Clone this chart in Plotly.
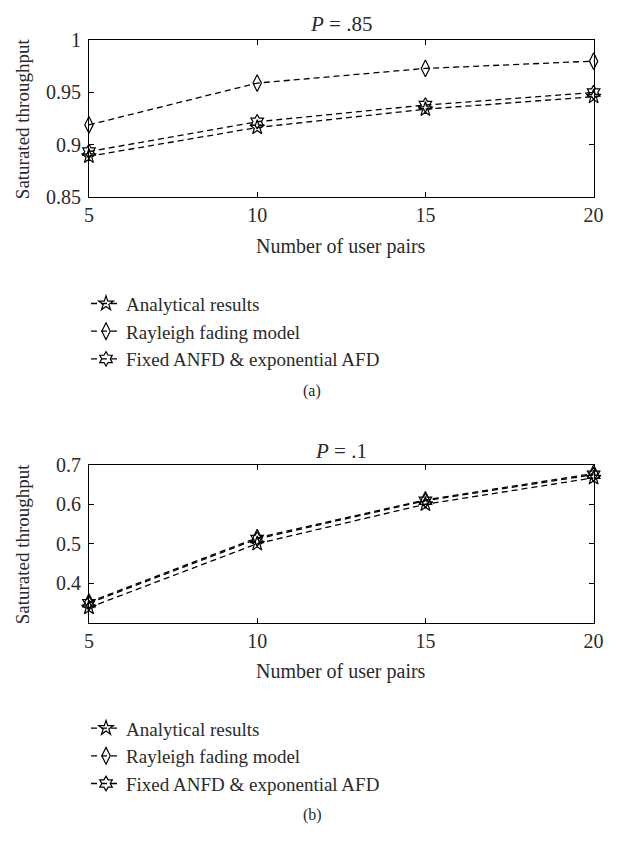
import plotly.graph_objects as go

users = [5, 10, 15, 20]

# P = .85
top_analytical = [0.889, 0.9165, 0.934, 0.946]
top_rayleigh = [0.919, 0.959, 0.973, 0.980]
top_fixed = [0.8935, 0.922, 0.938, 0.950]

# P = .1
bot_analytical = [0.338, 0.500, 0.600, 0.667]
bot_rayleigh = [0.352, 0.515, 0.611, 0.678]
bot_fixed = [0.349, 0.512, 0.609, 0.675]

names = ["Analytical results", "Rayleigh fading model", "Fixed ANFD &amp; exponential AFD"]
symbols = ["star-open", "diamond-tall-open", "hexagram-open"]
msizes = [11, 12, 11]

top_yticks = [0.85, 0.9, 0.95, 1]
top_yticktext = ["0.85", "0.9", "0.95", "1"]
bot_yticks = [0.4, 0.5, 0.6, 0.7]
bot_yticktext = ["0.4", "0.5", "0.6", "0.7"]
xticks = [5, 10, 15, 20]

W, H = 629, 841
FONT = "Liberation Serif"
TXT = "#2a2a2a"
FS = 20

def py(p):
    return 1 - p / H

def px(p):
    return p / W

fig = go.Figure()

top_series = [top_analytical, top_rayleigh, top_fixed]
bot_series = [bot_analytical, bot_rayleigh, bot_fixed]

for i, (vals, nm, sym, ms) in enumerate(zip(top_series, names, symbols, msizes)):
    fig.add_trace(go.Scatter(
        x=users, y=vals, name=nm, mode="lines+markers",
        line=dict(color="black", width=1.3, dash="6px,4px"),
        marker=dict(symbol=sym, size=ms, color="black", line=dict(width=1.2, color="black")),
        xaxis="x", yaxis="y", legend="legend",
        cliponaxis=False,
    ))

for i, (vals, nm, sym, ms) in enumerate(zip(bot_series, names, symbols, msizes)):
    fig.add_trace(go.Scatter(
        x=users, y=vals, name=nm, mode="lines+markers",
        line=dict(color="black", width=1.3, dash="6px,4px"),
        marker=dict(symbol=sym, size=ms, color="black", line=dict(width=1.2, color="black")),
        xaxis="x2", yaxis="y2", legend="legend2",
        cliponaxis=False,
    ))

x0, x1 = px(86), px(603)
axcommon = dict(showline=True, linecolor="black", linewidth=1, mirror="allticks",
                ticks="inside", ticklen=5, tickcolor="black", showgrid=False, zeroline=False,
                tickfont=dict(family=FONT, size=FS, color=TXT))

legend_common = dict(font=dict(family=FONT, size=19, color=TXT), bgcolor="rgba(0,0,0,0)",
                     borderwidth=0, xanchor="left", yanchor="top", traceorder="normal")

fig.update_layout(
    width=W, height=H, margin=dict(l=0, r=0, t=0, b=0),
    paper_bgcolor="white", plot_bgcolor="white",
    font=dict(family=FONT, size=FS, color=TXT),
    xaxis=dict(domain=[x0, x1], range=[5, 20], tickvals=xticks, anchor="y", **axcommon),
    yaxis=dict(domain=[py(191), py(30)], range=[0.85, 1], tickvals=top_yticks,
               ticktext=top_yticktext, anchor="x", ticklabelstandoff=3, **axcommon),
    xaxis2=dict(domain=[x0, x1], range=[5, 20], tickvals=xticks, anchor="y2", **axcommon),
    yaxis2=dict(domain=[py(628), py(466)], range=[0.3, 0.7], tickvals=bot_yticks,
                ticktext=bot_yticktext, anchor="x2", ticklabelstandoff=3, **axcommon),
    legend=dict(x=px(83), y=py(281), **legend_common),
    legend2=dict(x=px(83), y=py(717), **legend_common),
    showlegend=True,
)

cx = (86 + 603) / 2 / W
ann = [
    dict(text="<i>P</i> = .85", x=cx, y=py(13), size=21),
    dict(text="Number of user pairs", x=cx, y=py(242)),
    dict(text="(a)", x=0.5, y=py(390), size=16),
    dict(text="<i>P</i> = .1", x=cx, y=py(452), size=21),
    dict(text="Number of user pairs", x=cx, y=py(678)),
    dict(text="(b)", x=0.5, y=py(826), size=16),
]
for a in ann:
    fig.add_annotation(text=a["text"], x=a["x"], y=a["y"], xref="paper", yref="paper",
                       showarrow=False, xanchor="center", yanchor="middle",
                       font=dict(family=FONT, size=a.get("size", FS), color=TXT))

for yc in [(30 + 191) / 2, (466 + 628) / 2]:
    fig.add_annotation(text="Saturated throughput", x=px(18), y=py(yc), xref="paper", yref="paper",
                       showarrow=False, textangle=-90, xanchor="center", yanchor="middle",
                       font=dict(family=FONT, size=19, color=TXT))

fig.write_html("out.html", config={"displayModeBar": False},
               post_script="document.body.style.margin='0';")
